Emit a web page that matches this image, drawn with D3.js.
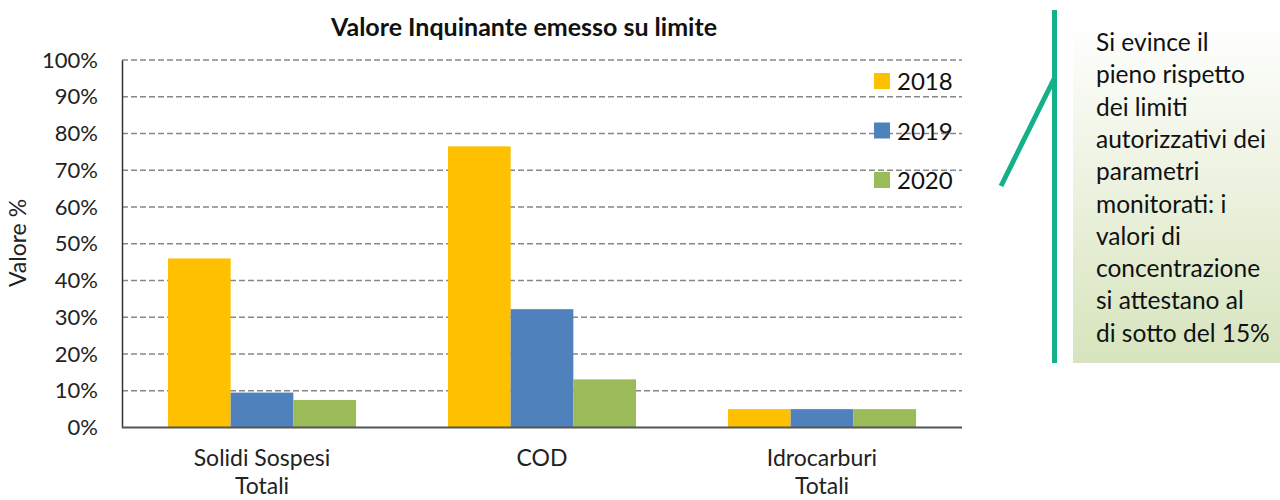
<!DOCTYPE html>
<html>
<head>
<meta charset="utf-8">
<script src="https://cdn.jsdelivr.net/npm/d3@7"></script>
<style>
  body { margin: 0; background: #fff; }
  svg { display: block; font-family: Lato, "Open Sans", sans-serif; }
</style>
</head>
<body>
<svg id="chart" width="1280" height="500"></svg>
<script>
const categories = [["Solidi Sospesi", "Totali"], ["COD"], ["Idrocarburi", "Totali"]];
const years = ["2018", "2019", "2020"];
const values2018 = [46, 76.5, 5];
const values2019 = [9.5, 32.2, 5];
const values2020 = [7.5, 13.1, 5];
const yTicks = [0, 10, 20, 30, 40, 50, 60, 70, 80, 90, 100];
const colors = ["#FFC000", "#4F81BD", "#9BBB59"];
const noteLines = ["Si evince il", "pieno rispetto", "dei limiti", "autorizzativi dei", "parametri",
  "monitorati: i", "valori di", "concentrazione", "si attestano al", "di sotto del 15%"];

const series = [values2018, values2019, values2020];
const svg = d3.select("#chart");

const plotLeft = 122, plotRight = 962, plotTop = 60, plotBottom = 427.5;

const x = d3.scaleBand().domain(d3.range(categories.length)).range([plotLeft, plotRight]).paddingInner(0).paddingOuter(0);
const xInner = d3.scaleBand().domain(years).range([0, x.bandwidth()]).paddingOuter(0.733).paddingInner(0);
const y = d3.scaleLinear().domain([0, 100]).range([plotBottom, plotTop]);

// grid
svg.append("g").selectAll("line").data(yTicks.filter(d => d > 0)).join("line")
  .attr("x1", plotLeft).attr("x2", plotRight)
  .attr("y1", d => y(d)).attr("y2", d => y(d))
  .attr("stroke", "#878787").attr("stroke-width", 1.6).attr("stroke-dasharray", "6,3");

// bars
const groups = svg.append("g").selectAll("g").data(categories).join("g")
  .attr("transform", (d, i) => `translate(${x(i)},0)`);
groups.selectAll("rect").data((d, i) => years.map((yr, k) => ({ yr, k, v: series[k][i] }))).join("rect")
  .attr("x", d => xInner(d.yr))
  .attr("width", xInner.bandwidth())
  .attr("y", d => y(d.v))
  .attr("height", d => y(0) - y(d.v))
  .attr("fill", d => colors[d.k]);

// axes
const yAxis = svg.append("g").attr("transform", `translate(${plotLeft},0)`)
  .call(d3.axisLeft(y).tickValues(yTicks).tickSize(0).tickPadding(24).tickFormat(d => d + "%"));
yAxis.select(".domain").attr("stroke", "#333").attr("stroke-width", 1.5);
yAxis.selectAll("text").attr("font-size", 22).attr("fill", "#222").attr("font-family", "Lato, sans-serif");

svg.append("line").attr("x1", plotLeft).attr("x2", plotRight).attr("y1", plotBottom).attr("y2", plotBottom)
  .attr("stroke", "#555").attr("stroke-width", 2);

// category labels
const catLabels = svg.append("g").selectAll("text").data(categories).join("text")
  .attr("x", (d, i) => x(i) + x.bandwidth() / 2)
  .attr("y", 466)
  .attr("text-anchor", "middle")
  .attr("font-size", 23).attr("fill", "#222");
catLabels.selectAll("tspan").data(d => d).join("tspan")
  .attr("x", function () { return this.parentNode.getAttribute("x"); })
  .attr("dy", (d, i) => i === 0 ? 0 : 28)
  .text(d => d);

// title
svg.append("text").attr("x", 524).attr("y", 36).attr("text-anchor", "middle")
  .attr("font-size", 25).attr("font-weight", "bold").attr("fill", "#111")
  .text("Valore Inquinante emesso su limite");

// y label
svg.append("text").attr("transform", "translate(26,243) rotate(-90)")
  .attr("text-anchor", "middle").attr("font-size", 23).attr("fill", "#222")
  .text("Valore %");

// legend
const legend = svg.append("g").selectAll("g").data(years).join("g")
  .attr("transform", (d, i) => `translate(874,${81 + i * 49.5})`);
legend.append("rect").attr("x", 0).attr("y", -8).attr("width", 16).attr("height", 16)
  .attr("fill", (d, i) => colors[i]);
legend.append("text").attr("x", 23).attr("y", 9).attr("font-size", 24).attr("fill", "#111").text(d => d);

// callout
const grad = svg.append("defs").append("linearGradient").attr("id", "noteGrad")
  .attr("x1", 0).attr("y1", 0).attr("x2", 0).attr("y2", 1);
grad.append("stop").attr("offset", "0%").attr("stop-color", "#ffffff");
grad.append("stop").attr("offset", "100%").attr("stop-color", "#d7e4bd");
svg.append("rect").attr("x", 1073).attr("y", 20).attr("width", 207).attr("height", 343)
  .attr("fill", "url(#noteGrad)");
svg.append("line").attr("x1", 1054.5).attr("x2", 1054.5).attr("y1", 10).attr("y2", 363)
  .attr("stroke", "#14b08a").attr("stroke-width", 5);
svg.append("line").attr("x1", 1054.5).attr("y1", 78).attr("x2", 1001).attr("y2", 186)
  .attr("stroke", "#14b08a").attr("stroke-width", 5);
svg.append("text").attr("x", 1096).attr("y", 51).attr("font-size", 24.5).attr("fill", "#111")
  .selectAll("tspan").data(noteLines).join("tspan")
  .attr("x", 1096).attr("dy", (d, i) => i === 0 ? 0 : 32.3).text(d => d);
</script>
</body>
</html>
